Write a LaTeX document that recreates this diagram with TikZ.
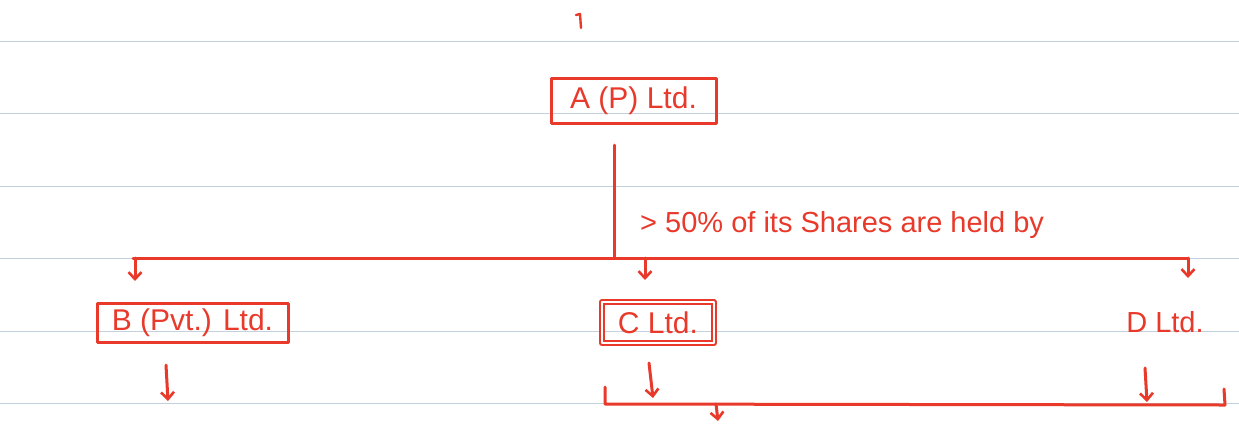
\documentclass[tikz,border=0pt]{standalone}
\usepackage{fontspec}
\setmainfont{Liberation Sans}
\usetikzlibrary{arrows.meta}
\definecolor{ink}{HTML}{E8392A}
\definecolor{rule}{HTML}{C3D0DE}
\begin{document}
\begin{tikzpicture}[x=1pt,y=-1pt,
  ink/.style={draw=ink,line width=3pt,line cap=round,line join=round},
  arr/.style={ink,-{Straight Barb[length=7pt,width=13pt,line width=2.6pt]}},
  boxnode/.style={ink,text=ink,inner sep=0pt,font=\fontsize{30}{34}\selectfont},
  txt/.style={text=ink,inner sep=0pt,font=\fontsize{29}{33}\selectfont}]
\useasboundingbox[fill=white] (0,0) rectangle (1239,424);
% ruled lines
\foreach \yy in {41,113,186,258,331,403}
  \draw[rule,line width=1pt] (0,\yy) -- (1239,\yy);
% small tick at top
\draw[ink,line width=2.4pt] (576,15) -- (580,14) -- (581,28);
% nodes
\node[boxnode,minimum width=165pt,minimum height=45pt] (A) at (633.5,100.5) {A (P) Ltd.};
\node[boxnode,minimum width=191pt,minimum height=39pt] (B) at (192.5,322.5) {B (Pvt.) Ltd.};
\node[boxnode,minimum width=112pt,minimum height=41pt,double=white,double distance=2pt,line width=2.2pt] (C) at (658,322.5) {C Ltd.};
\node[txt,font=\fontsize{29}{33}\selectfont] (D) at (1165,322) {D Ltd.};
\node[txt,anchor=west] (lbl) at (640,225) {> 50\% of its Shares are held by};
% coordinates
\coordinate (vtop) at (614,145);
\coordinate (vj) at (614,258);
\coordinate (hl) at (133,258);
\coordinate (hr) at (1188,258);
\coordinate (a1) at (135,258); \coordinate (a1e) at (135,281);
\coordinate (a2) at (645,258); \coordinate (a2e) at (645,280);
\coordinate (a3e) at (1188,278);
\coordinate (bs) at (166,365); \coordinate (bse) at (168,401);
\coordinate (cs) at (649,363); \coordinate (cse) at (653,398);
\coordinate (ds) at (1145,368); \coordinate (dse) at (1147,402);
\coordinate (bl) at (605,387); \coordinate (bll) at (605,404);
\coordinate (brr) at (1225,405); \coordinate (br) at (1224,389);
\coordinate (bm) at (716,404); \coordinate (bme) at (718,421);
% connectors
\draw[ink] (vtop) -- (vj);
\draw[ink] (hl) -- (hr);
\draw[arr] (a1) -- (a1e);
\draw[arr] (a2) -- (a2e);
\draw[arr] (hr) -- (a3e);
\draw[arr] (bs) -- (bse);
\draw[arr] (cs) -- (cse);
\draw[arr] (ds) -- (dse);
\draw[ink] (bl) -- (bll) -- (brr) -- (br);
\draw[arr] (bm) -- (bme);
\end{tikzpicture}
\end{document}
